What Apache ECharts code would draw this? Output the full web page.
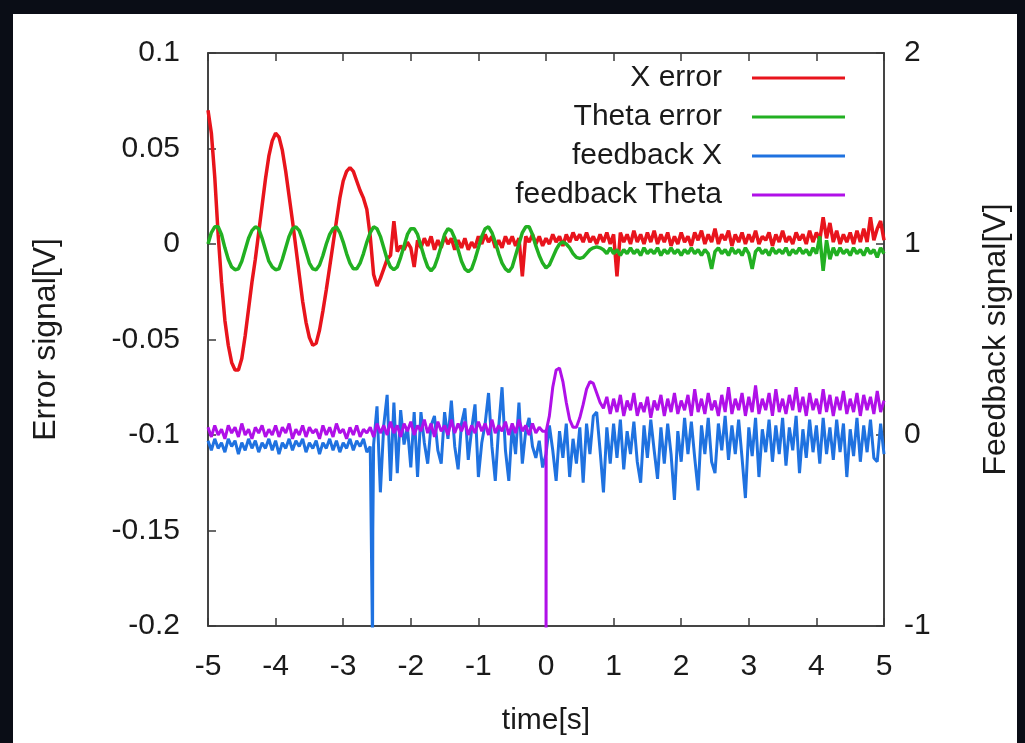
<!DOCTYPE html>
<html><head><meta charset="utf-8">
<script src="https://cdn.jsdelivr.net/npm/echarts/dist/echarts.min.js"></script>
<style>html,body{margin:0;padding:0;background:#0a0d16;} #c{width:1025px;height:743px;}</style>
</head><body><div id="c"></div>
<script>
// time samples [s]
const time = [
-5,-4.95,-4.9,-4.85,-4.8,-4.75,-4.7,-4.65,-4.6,-4.55,-4.5,-4.45,-4.4,-4.35,-4.3,-4.25,-4.2,-4.15,-4.1,-4.05,
-4,-3.95,-3.9,-3.85,-3.8,-3.75,-3.7,-3.65,-3.6,-3.55,-3.5,-3.45,-3.4,-3.35,-3.3,-3.25,-3.2,-3.15,-3.1,-3.05,
-3,-2.95,-2.9,-2.85,-2.8,-2.75,-2.7,-2.65,-2.6,-2.55,-2.5,-2.45,-2.4,-2.35,-2.3,-2.25,-2.2,-2.15,-2.1,-2.05,
-2,-1.95,-1.9,-1.85,-1.8,-1.75,-1.7,-1.65,-1.6,-1.55,-1.5,-1.45,-1.4,-1.35,-1.3,-1.25,-1.2,-1.15,-1.1,-1.05,
-1,-0.95,-0.9,-0.85,-0.8,-0.75,-0.7,-0.65,-0.6,-0.55,-0.5,-0.45,-0.4,-0.35,-0.3,-0.25,-0.2,-0.15,-0.1,-0.05,
0,0.05,0.1,0.15,0.2,0.25,0.3,0.35,0.4,0.45,0.5,0.55,0.6,0.65,0.7,0.75,0.8,0.85,0.9,0.95,
1,1.05,1.1,1.15,1.2,1.25,1.3,1.35,1.4,1.45,1.5,1.55,1.6,1.65,1.7,1.75,1.8,1.85,1.9,1.95,
2,2.05,2.1,2.15,2.2,2.25,2.3,2.35,2.4,2.45,2.5,2.55,2.6,2.65,2.7,2.75,2.8,2.85,2.9,2.95,
3,3.05,3.1,3.15,3.2,3.25,3.3,3.35,3.4,3.45,3.5,3.55,3.6,3.65,3.7,3.75,3.8,3.85,3.9,3.95,
4,4.05,4.1,4.15,4.2,4.25,4.3,4.35,4.4,4.45,4.5,4.55,4.6,4.65,4.7,4.75,4.8,4.85,4.9,4.95,
5];

// X error [V] (left axis)
const xError = [
0.070,0.058,0.035,0.005,-0.020,-0.040,-0.053,-0.062,-0.066,-0.066,-0.060,-0.048,-0.034,-0.020,-0.008,0.006,0.020,0.034,0.046,0.054,
0.058,0.056,0.049,0.038,0.025,0.012,-0.002,-0.016,-0.030,-0.041,-0.049,-0.053,-0.052,-0.045,-0.035,-0.024,-0.012,0.000,0.012,0.024,
0.033,0.038,0.040,0.038,0.033,0.028,0.024,0.018,0.004,-0.016,-0.022,-0.018,-0.013,-0.008,-0.006,0.012,-0.004,-0.001,-0.003,0.001,
-0.002,-0.012,0.002,-0.002,0.003,-0.001,0.004,-0.003,0.002,-0.002,0.004,0.000,0.003,-0.003,0.002,-0.002,0.003,-0.003,0.001,-0.002,
0.004,0.000,0.005,0.001,0.004,-0.002,0.002,-0.002,0.004,0.000,0.004,-0.001,0.003,-0.017,0.004,0.001,0.005,0.000,0.004,-0.001,
0.003,0.000,0.005,0.001,0.004,-0.001,0.005,0.001,0.006,0.002,0.005,0.001,0.006,0.001,0.004,0.000,0.005,0.001,0.006,0.000,
0.005,-0.017,0.006,0.001,0.005,0.000,0.007,0.001,0.005,0.000,0.006,0.001,0.007,0.000,0.005,0.001,0.006,-0.001,0.004,0.000,
0.006,0.001,0.004,-0.001,0.006,0.002,0.007,0.000,0.005,0.001,0.008,0.000,0.005,0.002,0.007,-0.001,0.005,0.001,0.006,0.000,
0.005,0.001,0.007,0.000,0.004,0.002,0.006,-0.001,0.005,0.001,0.007,0.001,0.004,0.000,0.006,0.002,0.005,0.000,0.007,0.001,
0.006,0.002,0.014,0.003,0.011,0.001,0.007,0.000,0.005,0.001,0.006,0.000,0.007,0.001,0.008,0.001,0.014,0.002,0.008,0.012,
0.002];

// Theta error [V] (left axis)
const thetaError = [
0.000,0.006,0.009,0.009,0.005,-0.002,-0.008,-0.012,-0.0135,-0.013,-0.009,-0.003,0.003,0.007,0.009,0.008,0.003,-0.003,-0.009,-0.012,
-0.0135,-0.013,-0.008,-0.002,0.004,0.008,0.009,0.007,0.002,-0.004,-0.010,-0.013,-0.0135,-0.011,-0.006,0.000,0.005,0.008,0.009,0.006,
0.001,-0.005,-0.010,-0.013,-0.013,-0.010,-0.005,0.001,0.006,0.009,0.008,0.004,-0.002,-0.008,-0.012,-0.0135,-0.012,-0.007,-0.001,0.005,
0.008,0.008,0.005,-0.001,-0.007,-0.012,-0.014,-0.012,-0.007,-0.001,0.005,0.008,0.007,0.003,-0.003,-0.009,-0.013,-0.0145,-0.013,-0.008,
-0.002,0.004,0.008,0.009,0.006,0.001,-0.005,-0.010,-0.013,-0.0145,-0.012,-0.006,0.000,0.006,0.009,0.009,0.005,-0.001,-0.006,-0.010,
-0.0125,-0.011,-0.007,-0.003,0.000,0.001,0.000,-0.002,-0.005,-0.007,-0.0075,-0.007,-0.005,-0.003,-0.002,-0.0015,-0.002,-0.003,-0.005,-0.002,
-0.005,-0.003,-0.006,-0.003,-0.005,-0.002,-0.005,-0.003,-0.006,-0.002,-0.005,-0.003,-0.005,-0.002,-0.006,-0.003,-0.005,-0.002,-0.005,-0.003,
-0.006,-0.003,-0.005,-0.002,-0.005,-0.003,-0.006,-0.003,-0.005,-0.013,-0.004,-0.002,-0.005,-0.003,-0.006,-0.002,-0.005,-0.003,-0.006,-0.002,
-0.005,-0.013,-0.004,-0.002,-0.005,-0.003,-0.006,-0.002,-0.005,-0.003,-0.005,-0.002,-0.006,-0.003,-0.005,-0.002,-0.005,-0.003,-0.006,-0.002,
-0.005,0.004,-0.014,0.002,-0.008,-0.002,-0.006,-0.002,-0.005,-0.003,-0.006,-0.002,-0.005,-0.003,-0.006,-0.002,-0.005,-0.003,-0.007,-0.002,
-0.005];

// feedback X [V] (right axis)
const feedbackX = [
-0.03,-0.08,-0.02,-0.07,-0.04,-0.09,-0.02,-0.06,-0.03,-0.10,-0.04,-0.08,-0.02,-0.07,-0.03,-0.09,-0.04,-0.07,-0.02,-0.08,
-0.03,-0.10,-0.04,-0.07,-0.02,-0.08,-0.03,-0.06,-0.02,-0.09,-0.04,-0.07,-0.03,-0.10,-0.04,-0.07,-0.02,-0.08,-0.03,-0.09,
-0.04,-0.07,-0.02,-0.08,-0.03,-0.06,-0.02,-0.09,-0.06,-0.05,0.15,-0.30,0.05,0.21,-0.24,0.17,-0.20,0.13,-0.05,0.04,
-0.17,0.12,-0.22,0.12,-0.04,-0.15,0.05,0.10,-0.08,-0.15,0.12,-0.02,0.18,-0.06,-0.18,0.06,0.14,-0.13,0.03,0.16,
-0.22,-0.04,0.06,0.22,-0.06,-0.24,0.04,0.25,-0.08,-0.24,0.05,-0.10,0.17,-0.15,0.02,0.09,-0.06,-0.12,-0.03,-0.17,
-0.10,0.05,-0.08,-0.24,0.02,-0.12,0.06,-0.22,-0.02,-0.15,0.04,-0.25,0.06,-0.10,0.10,0.12,-0.08,-0.30,0.04,-0.15,
0.06,-0.12,0.08,-0.18,0.02,-0.10,0.07,-0.14,-0.25,0.05,-0.12,0.08,-0.08,-0.23,0.04,-0.15,0.06,-0.10,-0.34,0.02,
-0.14,0.09,-0.10,0.07,-0.12,-0.29,0.05,-0.10,0.09,-0.14,-0.20,0.06,-0.08,0.10,-0.13,0.05,-0.10,0.08,-0.12,-0.33,
0.04,-0.11,0.09,-0.22,0.03,-0.09,0.08,-0.14,0.05,-0.10,0.09,-0.16,0.04,-0.08,0.10,-0.20,0.03,-0.12,0.08,-0.09,
0.05,-0.15,0.09,-0.10,0.04,-0.13,0.08,-0.09,0.06,-0.22,0.03,-0.11,0.09,-0.14,0.05,-0.09,0.08,-0.12,-0.14,0.06,
-0.10];
// the single deep glitch of feedback X, [time, value]
const feedbackXSpike = [[-2.566, -1.1], [-2.562, -0.5]];

// feedback Theta [V] (right axis)
const feedbackTheta = [
0.04,-0.01,0.05,0.00,0.03,-0.02,0.05,0.01,0.04,-0.01,0.06,0.00,0.03,-0.02,0.04,0.01,0.05,-0.01,0.03,0.00,
0.05,-0.01,0.04,0.01,0.06,-0.02,0.03,0.00,0.05,-0.01,0.04,0.01,0.03,-0.02,0.05,0.00,0.04,-0.01,0.06,0.01,
0.03,-0.02,0.04,0.00,0.05,-0.01,0.03,0.01,0.04,-0.01,0.06,0.01,0.05,0.00,0.07,0.01,0.05,-0.01,0.06,0.02,
0.07,0.00,0.05,0.02,0.08,0.01,0.06,-0.01,0.07,0.02,0.05,0.00,0.08,0.01,0.06,0.02,0.07,0.00,0.05,0.01,
0.07,0.02,0.06,0.00,0.08,0.01,0.05,0.02,0.07,0.00,0.06,0.01,0.08,0.02,0.05,0.00,0.06,0.01,0.04,0.02,
0.02,0.10,0.25,0.34,0.35,0.28,0.17,0.08,0.04,0.04,0.09,0.16,0.24,0.28,0.27,0.22,0.17,0.14,0.20,0.11,
0.19,0.12,0.21,0.10,0.18,0.13,0.22,0.10,0.17,0.12,0.20,0.09,0.18,0.13,0.21,0.10,0.19,0.12,0.22,0.11,
0.18,0.13,0.21,0.10,0.24,0.12,0.19,0.11,0.22,0.13,0.18,0.10,0.21,0.12,0.25,0.11,0.19,0.13,0.22,0.10,
0.20,0.12,0.26,0.11,0.19,0.13,0.22,0.10,0.24,0.12,0.19,0.11,0.21,0.13,0.25,0.12,0.20,0.10,0.22,0.13,
0.19,0.11,0.24,0.12,0.21,0.10,0.20,0.13,0.23,0.11,0.19,0.12,0.22,0.10,0.21,0.13,0.20,0.11,0.23,0.12,
0.18];
const feedbackThetaSpike = [[0.001, -1.1], [0.003, 0.02]];

const seriesNames = ['X error', 'Theta error', 'feedback X', 'feedback Theta'];
const seriesColors = ['#e8141c', '#22b022', '#1f72e0', '#b010e8'];
const xTicks = [-5, 5, 1];
const leftTicks = [-0.2, 0.1, 0.05];
const rightTicks = [-1, 2, 1];

[xError, thetaError, feedbackX, feedbackTheta].forEach(function (a, i) {
  if (a.length !== time.length) throw new Error('length mismatch in ' + seriesNames[i] + ': ' + a.length);
});

function pairs(vals, extra) {
  const out = time.map(function (t, i) { return [t, vals[i]]; });
  (extra || []).forEach(function (p) { out.push(p); });
  out.sort(function (a, b) { return a[0] - b[0]; });
  return out;
}

const FONT = 'Liberation Sans';
const TXT = '#1a1a1a';
const AX = '#3a3a3a';

const chart = echarts.init(document.getElementById('c'), null, { renderer: 'canvas' });
const axisCommon = {
  axisLine: { show: true, onZero: false, lineStyle: { color: AX, width: 1.5 } },
  axisTick: { show: true, inside: true, length: 8, lineStyle: { color: AX, width: 1.5 } },
  splitLine: { show: false },
  axisLabel: { color: TXT, fontSize: 30, fontFamily: FONT },
  nameTextStyle: { color: TXT, fontSize: 30, fontFamily: FONT }
};

chart.setOption({
  backgroundColor: '#0a0d16',
  animation: false,
  graphic: [{ type: 'rect', z: -100, silent: true, shape: { x: 13, y: 14, width: 1004, height: 729 }, style: { fill: '#ffffff' } }],
  grid: { left: 208, right: 141, top: 53, bottom: 117, show: true, borderColor: AX, borderWidth: 1.5, backgroundColor: 'transparent' },
  legend: {
    data: seriesNames, orient: 'vertical', align: 'right', right: 175, top: 58,
    itemWidth: 93, itemHeight: 3, itemGap: 9, icon: 'rect',
    textStyle: { color: TXT, fontSize: 30, fontFamily: FONT, lineHeight: 30, padding: [0, 25, 0, 0] }
  },
  xAxis: [
    Object.assign({}, axisCommon, { type: 'value', position: 'bottom', min: xTicks[0], max: xTicks[1], interval: xTicks[2],
      axisLabel: Object.assign({}, axisCommon.axisLabel, { margin: 26 }),
      name: 'time[s]', nameLocation: 'middle', nameGap: 80 }),
    Object.assign({}, axisCommon, { type: 'value', position: 'top', min: xTicks[0], max: xTicks[1], interval: xTicks[2],
      axisLabel: { show: false } })
  ],
  yAxis: [
    Object.assign({}, axisCommon, { type: 'value', position: 'left', min: leftTicks[0], max: leftTicks[1], interval: leftTicks[2],
      axisLabel: Object.assign({}, axisCommon.axisLabel, { margin: 28 }),
      name: 'Error signal[V]', nameLocation: 'middle', nameGap: 146,
      nameTextStyle: { color: TXT, fontSize: 32, fontFamily: FONT } }),
    Object.assign({}, axisCommon, { type: 'value', position: 'right', min: rightTicks[0], max: rightTicks[1], interval: rightTicks[2],
      axisLabel: Object.assign({}, axisCommon.axisLabel, { margin: 20 }),
      name: 'Feedback signal[V]', nameLocation: 'middle', nameGap: 96,
      nameTextStyle: { color: TXT, fontSize: 32, fontFamily: FONT } })
  ],
  series: [
    { name: seriesNames[0], type: 'line', xAxisIndex: 0, yAxisIndex: 0, data: pairs(xError), showSymbol: false, symbol: 'none',
      lineStyle: { width: 3.5, color: seriesColors[0] }, itemStyle: { color: seriesColors[0] } },
    { name: seriesNames[1], type: 'line', xAxisIndex: 0, yAxisIndex: 0, data: pairs(thetaError), showSymbol: false, symbol: 'none',
      lineStyle: { width: 3.5, color: seriesColors[1] }, itemStyle: { color: seriesColors[1] } },
    { name: seriesNames[2], type: 'line', xAxisIndex: 0, yAxisIndex: 1, data: pairs(feedbackX, feedbackXSpike), showSymbol: false, symbol: 'none',
      lineStyle: { width: 3, color: seriesColors[2] }, itemStyle: { color: seriesColors[2] } },
    { name: seriesNames[3], type: 'line', xAxisIndex: 0, yAxisIndex: 1, data: pairs(feedbackTheta, feedbackThetaSpike), showSymbol: false, symbol: 'none',
      lineStyle: { width: 3, color: seriesColors[3] }, itemStyle: { color: seriesColors[3] } }
  ]
});
</script></body></html>
